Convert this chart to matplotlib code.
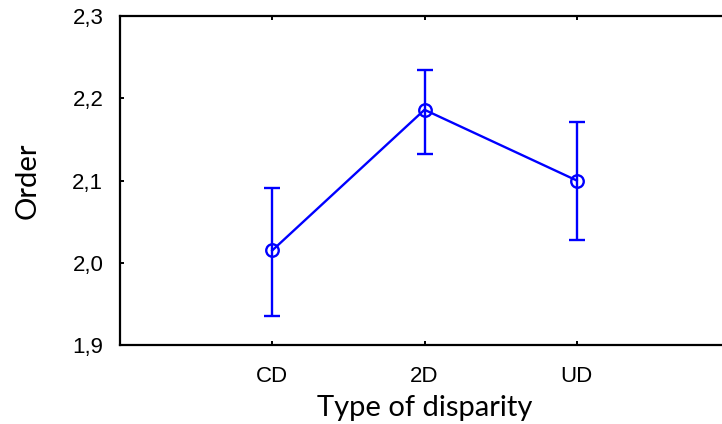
"""Order by type of disparity: means with error bars."""

import matplotlib

matplotlib.use("Agg")
import matplotlib.pyplot as plt
from matplotlib.ticker import FuncFormatter

CATEGORIES = ["CD", "2D", "UD"]
MEANS = [2.015, 2.186, 2.100]
LOWER = [1.935, 2.132, 2.028]
UPPER = [2.091, 2.234, 2.171]

BLUE = "#0000FF"


def main() -> None:
    fig = plt.figure(figsize=(7.22, 4.24), dpi=100)
    # right spine sits just past the image edge, as in the original export
    ax = fig.add_axes([120 / 722, (424 - 345) / 424, 609 / 722, 329 / 424])

    x = list(range(1, len(CATEGORIES) + 1))
    yerr = [
        [m - lo for m, lo in zip(MEANS, LOWER)],
        [hi - m for m, hi in zip(MEANS, UPPER)],
    ]
    ax.errorbar(
        x, MEANS, yerr=yerr, color=BLUE, linewidth=1.7, marker="o", markersize=9,
        markerfacecolor="none", markeredgewidth=1.7, capsize=5.5, capthick=1.7,
        elinewidth=1.7,
    )

    ax.set_xlim(0, 4)
    ax.set_ylim(1.9, 2.3)
    ax.set_xticks(x)
    ax.set_xticklabels(CATEGORIES)
    ax.set_yticks([1.9, 2.0, 2.1, 2.2, 2.3])
    ax.yaxis.set_major_formatter(FuncFormatter(lambda v, _: f"{v:.1f}".replace(".", ",")))

    for side in ["left", "right", "top", "bottom"]:
        ax.spines[side].set_linewidth(1.6)
    ax.tick_params(direction="in", length=3, width=1.4, top=True, right=True,
                   labelsize=16)
    ax.tick_params(axis="y", pad=12)
    ax.tick_params(axis="x", pad=15)
    for lab in ax.get_xticklabels() + ax.get_yticklabels():
        lab.set_fontfamily(["Liberation Sans", "DejaVu Sans"])

    ax.set_xlabel("Type of disparity", fontsize=21, fontfamily=["Lato", "DejaVu Sans"],
                  labelpad=6)
    ax.set_ylabel("Order", fontsize=21, fontfamily=["Lato", "DejaVu Sans"], labelpad=23)

    fig.savefig("out.png", dpi=100)
    plt.close(fig)


if __name__ == "__main__":
    main()
